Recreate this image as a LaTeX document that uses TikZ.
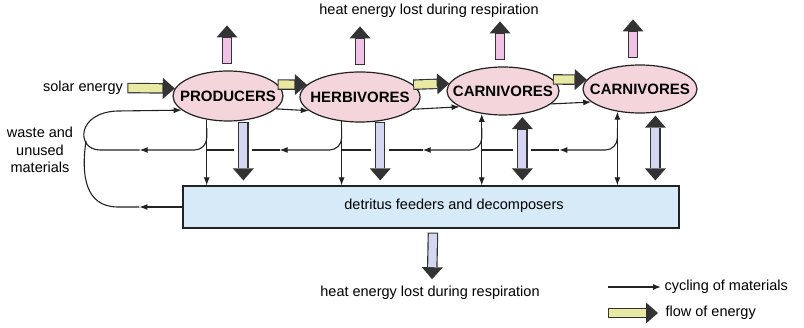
\documentclass[tikz,border=0pt]{standalone}
\usepackage{fontspec}
\setmainfont{Liberation Sans}
\usetikzlibrary{positioning,arrows.meta,calc,shapes.geometric}
\definecolor{bodyPink}{HTML}{F5D5DC}
\definecolor{heatPink}{HTML}{F0C3E6}
\definecolor{energyBlue}{HTML}{D5D6F2}
\definecolor{solarYellow}{HTML}{E8EAA4}
\definecolor{detrBlue}{HTML}{D6EBF7}
\definecolor{headGrey}{HTML}{333333}
\definecolor{lineGrey}{HTML}{222222}

\begin{document}
\begin{tikzpicture}[x=1pt, y=-1pt, font=\fontsize{14.5}{17.5}\selectfont,
    organism/.style={ellipse, draw=lineGrey, line width=1.2pt, fill=bodyPink,
      inner xsep=-25pt, inner ysep=0pt, font=\fontsize{15}{18}\selectfont\bfseries},
    matline/.style={line width=1.1pt, draw=lineGrey, >={Latex[length=8pt,width=6pt]}},
    rim/.style={line width=10.5pt, draw=headGrey, >={Triangle[length=12pt,width=21pt,line width=0pt]}},
    core/.style={line width=8.2pt},
    halo/.style={line width=18pt, draw=white}]
  \useasboundingbox (0,0) rectangle (804,328);

  % trophic levels and the detritus box
  \node[organism, minimum width=110pt, minimum height=50pt] (prod) at (228,96) {PRODUCERS};
  \node[organism, minimum width=120pt, minimum height=50pt] (herb) at (360,97) {HERBIVORES};
  \node[organism, minimum width=112pt, minimum height=48pt] (carn1) at (503,91) {CARNIVORES};
  \node[organism, minimum width=114pt, minimum height=48pt] (carn2) at (640,89) {CARNIVORES};
  \node[draw=lineGrey, line width=1.2pt, fill=detrBlue, minimum width=496pt, minimum height=42pt] (detr) at (431,207) {};
  \node (detrname) at (454,206) {detritus feeders and decomposers};

  \node (solar) at (83,88) {solar energy};
  \node[align=center] (waste) at (40,150) {waste and\\unused\\materials};
  \node (heattop) at (429,11) {heat energy lost during respiration};
  \node (heatbot) at (430,293) {heat energy lost during respiration};
  \node[anchor=west] (legmat) at (661,287) {cycling of materials};
  \node[anchor=west] (legenergy) at (662,313) {flow of energy};
  \coordinate (legmatfrom) at (608,287);
  \coordinate (legenergyfrom) at (608,313);

  \coordinate (rline) at (0,150);
  \coordinate (rknee) at (0,128);
  \coordinate (pv) at (prod.-132);
  \coordinate (hv) at (herb.-127);
  \coordinate (c1v) at (carn1.-133);
  \coordinate (c2v) at (carn2.-135);

  % cycling of materials
  \draw[matline, ->] (pv) -- (pv |- detr.north);
  \draw[matline, ->] (hv) -- (hv |- detr.north);
  \draw[matline, <->] (c1v) -- (c1v |- detr.north);
  \draw[matline, <->] (c2v) -- (c2v |- detr.north);
  \foreach \src/\dst/\gap in {c2v/c1v/58, c1v/hv/59, hv/pv/62} {
    \draw[matline, ->, rounded corners=12pt] (\src |- rknee) |- ($(\src |- rline)+(-\gap,0)$);
    \draw[matline] ($(\src |- rline)+(-\gap,0)$) -- (\dst |- rline);
  }
  \draw[matline, ->, rounded corners=12pt] (pv |- rknee) |- ($(pv |- rline)+(-67,0)$);
  \draw[matline, ->] ($(pv |- rline)+(-67,0)$) -- (100,150) .. controls (76,150) and (76,112) .. (118,111) -- (prod.197);
  \draw[matline, ->] (detr.west) -- ++(-43,0);
  \draw[matline] ($(detr.west)+(-43,0)$) -- (118,207) .. controls (85,207) and (81,175) .. (86,141);

  % flow of energy
  \foreach \n/\ang in {prod/-58, herb/-50} {
    \draw[halo, shorten <=18pt, shorten >=20pt] (\n.\ang) -- (\n.\ang |- detr.north);
    \draw[rim, ->, shorten <=1pt, shorten >=5pt] (\n.\ang) -- (\n.\ang |- detr.north);
    \draw[core, energyBlue, shorten <=2pt, shorten >=17.5pt] (\n.\ang) -- (\n.\ang |- detr.north);
  }
  \foreach \n/\ang in {carn1/-50, carn2/-57} {
    \draw[halo, shorten <=18pt, shorten >=20pt] (\n.\ang) -- (\n.\ang |- detr.north);
    \draw[rim, <->, shorten <=3pt, shorten >=5pt] (\n.\ang) -- (\n.\ang |- detr.north);
    \draw[core, energyBlue, shorten <=15.5pt, shorten >=17.5pt] (\n.\ang) -- (\n.\ang |- detr.north);
  }
  \foreach \n/\dx in {prod/-1, herb/0, carn1/-3, carn2/-7} {
    \draw[rim, ->] ($(\n.north)+(\dx,-6)$) -- ++(0,-39);
    \draw[core, heatPink] ($(\n.north)+(\dx,-7)$) -- ++(0,-25.5);
  }
  \draw[rim, ->, shorten <=4pt, shorten >=3.5pt] ($(detr.south)+(2,0)$) -- ($(heatbot.north)+(2,0)$);
  \draw[core, energyBlue, shorten <=5pt, shorten >=15.5pt] ($(detr.south)+(2,0)$) -- ($(heatbot.north)+(2,0)$);

  \draw[rim, ->, shorten <=1pt] (solar.east) -- (prod.172);
  \draw[core, solarYellow, shorten <=2pt, shorten >=12.5pt] (solar.east) -- (prod.172);
  \foreach \a/\b/\out/\in/\low/\high in {prod/herb/13/167/-15/195, herb/carn1/13/172/-13/200, carn1/carn2/13/170/-15/195} {
    \draw[rim, ->] (\a.\out) -- (\b.\in);
    \draw[core, solarYellow, shorten <=1pt, shorten >=12.5pt] (\a.\out) -- (\b.\in);
    \draw[matline, ->] (\a.\low) -- (\b.\high);
  }

  % key
  \draw[matline, ->] (legmatfrom) -- (legmat.west);
  \draw[rim, ->, shorten >=4pt] (legenergyfrom) -- (legenergy.west);
  \draw[core, solarYellow, shorten <=1pt, shorten >=16.5pt] (legenergyfrom) -- (legenergy.west);
\end{tikzpicture}
\end{document}
